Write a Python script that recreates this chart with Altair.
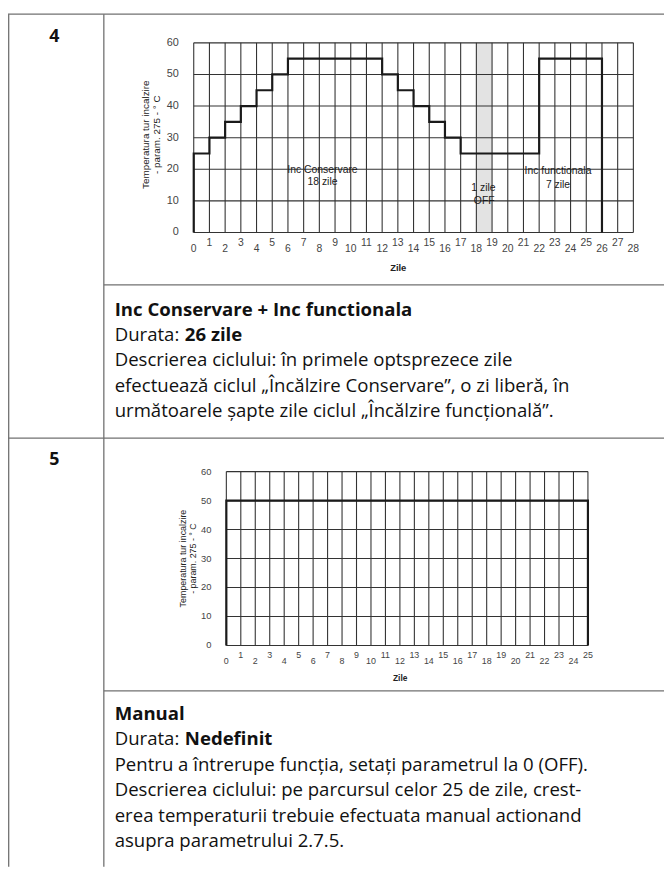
import altair as alt
import pandas as pd

# ---------------- data : cycle 4 ----------------
days1 = list(range(29))
temps_grid = [0, 10, 20, 30, 40, 50, 60]
step1_day = [0, 0, 1, 2, 3, 4, 5, 6, 12, 13, 14, 15, 16, 17, 22, 26]
step1_temp = [0, 25, 30, 35, 40, 45, 50, 55, 50, 45, 40, 35, 30, 25, 55, 0]
off_start = [18]
off_end = [19]
ann1_text = ["Inc Conservare", "18 zile", "1 zile", "OFF", "Inc functionala", "7 zile"]
ann1_day = [8.2, 8.2, 18.45, 18.5, 23.2, 23.2]
ann1_temp = [19.7, 15.9, 14.0, 10.0, 19.4, 15.0]

# ---------------- data : cycle 5 ----------------
days2 = list(range(26))
step2_day = [0, 0, 25]
step2_temp = [0, 50, 0]

# ---------------- texts ----------------
row_numbers = ["4", "5"]
y_title = ["Temperatura tur incalzire", "- param. 275 - \u00b0 C"]
x_title = "Zile"
block1_title = "Inc Conservare + Inc functionala"
block1_dur_label = "Durata:"
block1_dur_value = "26 zile"
block1_lines = [
    "Descrierea ciclului: \u00een primele optsprezece zile",
    "efectueaz\u0103 ciclul \u201e\u00cenc\u0103lzire Conservare\u201d, o zi liber\u0103, \u00een",
    "urm\u0103toarele \u0219apte zile ciclul \u201e\u00cenc\u0103lzire func\u021bional\u0103\u201d.",
]
block2_title = "Manual"
block2_dur_label = "Durata:"
block2_dur_value = "Nedefinit"
block2_lines = [
    "Pentru a \u00eentrerupe func\u021bia, seta\u021bi parametrul la 0 (OFF).",
    "Descrierea ciclului: pe parcursul celor 25 de zile, crest-",
    "erea temperaturii trebuie efectuata manual actionand",
    "asupra parametrului 2.7.5.",
]

BODY = "Open Sans"
TICK = "Liberation Sans Narrow, Liberation Sans, Arial"
GRID = "#333333"
LINE = "#1a1a1a"
FRAME = "#707070"
W, H = 664, 864


def P(v):
    return v - 8  # page px -> chart px


def make_plot(days, step_day, step_temp, xmax, xr, yr, fs_y, fs_x, dy_even, dy_odd,
              band=None, ann=None):
    sx = alt.Scale(domain=[0, xmax], range=xr, nice=False, zero=False)
    sy = alt.Scale(domain=[0, 60], range=yr, nice=False)
    layers = []
    if band is not None:
        bdf = pd.DataFrame({"start": band[0], "end": band[1]})
        layers.append(alt.Chart(bdf).mark_rect(color="#e3e3e3").encode(
            x=alt.X("start:Q", scale=sx, axis=None), x2="end:Q",
            y=alt.YDatum(0, scale=sy, axis=None), y2=alt.Y2Datum(60)))
    vdf = pd.DataFrame({"day": days})
    layers.append(alt.Chart(vdf).mark_rule(color=GRID, strokeWidth=1.1).encode(
        x=alt.X("day:Q", scale=sx, axis=None),
        y=alt.YDatum(0, scale=sy, axis=None), y2=alt.Y2Datum(60)))
    hdf = pd.DataFrame({"temp": temps_grid})
    layers.append(alt.Chart(hdf).mark_rule(color=GRID, strokeWidth=1.1).encode(
        y=alt.Y("temp:Q", scale=sy, axis=None),
        x=alt.XDatum(0, scale=sx, axis=None), x2=alt.X2Datum(xmax)))
    sdf = pd.DataFrame({"day": step_day, "temp": step_temp, "i": list(range(len(step_day)))})
    layers.append(alt.Chart(sdf).mark_line(color=LINE, strokeWidth=2.2, interpolate="step-after").encode(
        x=alt.X("day:Q", scale=sx, axis=None), y=alt.Y("temp:Q", scale=sy, axis=None),
        order=alt.Order("i:Q")))
    # tick labels of the x axis (even ones lower, odd ones higher)
    for parity, dy in ((0, dy_even), (1, dy_odd)):
        layers.append(alt.Chart(vdf).transform_filter(f"datum.day % 2 == {parity}").mark_text(
            font=TICK, fontSize=fs_x, color="#444", align="center", baseline="alphabetic", dy=dy
        ).encode(x=alt.X("day:Q", scale=sx, axis=None), y=alt.YDatum(0, scale=sy, axis=None),
                 text=alt.Text("day:Q", format="d")))
    # tick labels of the y axis
    layers.append(alt.Chart(hdf).mark_text(
        font=TICK, fontSize=fs_y, color="#444", align="right", baseline="middle", dx=-15
    ).encode(y=alt.Y("temp:Q", scale=sy, axis=None), x=alt.XDatum(0, scale=sx, axis=None),
             text=alt.Text("temp:Q", format="d")))
    if ann is not None:
        adf = pd.DataFrame({"day": ann[0], "temp": ann[1], "label": ann[2]})
        layers.append(alt.Chart(adf).mark_text(font=TICK, fontSize=10.5, color="#1a1a1a",
                                               baseline="middle", align="center").encode(
            x=alt.X("day:Q", scale=sx, axis=None), y=alt.Y("temp:Q", scale=sy, axis=None),
            text="label:N"))
    return alt.layer(*layers)


plot1 = make_plot(days1, step1_day, step1_temp, 28, [P(196), P(641)], [P(230), P(38)],
                  11, 10.5, 20, 14, band=(off_start, off_end),
                  ann=(ann1_day, ann1_temp, ann1_text))
plot2 = make_plot(days2, step2_day, step2_temp, 25, [P(229), P(595)], [P(648), P(472)],
                  9.5, 9, 19, 13)


def rule(x1, x2, y1, y2):
    return alt.Chart().mark_rule(color=FRAME, strokeWidth=1.3).encode(
        x=alt.value(x1), x2=alt.value(x2), y=alt.value(y1), y2=alt.value(y2))


def txt(s, x, y, size=18.8, weight="normal", align="left", font=BODY, color="#111",
        angle=0, line_height=None):
    kw = dict(text=s, font=font, fontSize=size, fontWeight=weight, color=color,
              align=align, baseline="middle")
    if angle:
        kw["angle"] = angle
    if line_height:
        kw["lineHeight"] = line_height
    return alt.Chart().mark_text(**kw).encode(x=alt.value(P(x)), y=alt.value(P(y)))


SEP1, SEP2, SEP3 = 283, 438, 694
frame = [
    rule(0, W, P(9), P(9)),
    rule(0.7, 0.7, P(9), H),
    rule(P(105), P(105), P(9), H),
    rule(P(105), W, P(SEP1), P(SEP1)),
    rule(0, W, P(SEP2), P(SEP2)),
    rule(P(105), W, P(SEP3), P(SEP3)),
]

# axis titles
titles = [
    txt(y_title, 147.5, 131, size=10, font=TICK, color="#222", align="center",
        angle=270, line_height=11),
    txt(x_title, 403, 266, size=9.5, weight="bold", font=TICK, color="#222", align="center"),
    txt(y_title, 185, 560, size=9, font=TICK, color="#222", align="center",
        angle=270, line_height=10),
    txt(x_title, 405, 681, size=8.5, weight="bold", font=TICK, color="#222", align="center"),
]

TX = 116
DX = 187
texts = [
    txt(row_numbers[0], 55, 32, size=18, weight="bold", align="center"),
    txt(row_numbers[1], 55, 460, size=18, weight="bold", align="center"),
]
y0, dy = 308, 25.8
texts.append(txt(block1_title, TX, y0, weight="bold"))
texts.append(txt(block1_dur_label, TX, y0 + dy))
texts.append(txt(block1_dur_value, DX, y0 + dy, weight="bold"))
for k, s in enumerate(block1_lines):
    texts.append(txt(s, TX, y0 + dy * (k + 2)))
y0, dy = 717, 25.8
texts.append(txt(block2_title, TX, y0, weight="bold"))
texts.append(txt(block2_dur_label, TX, y0 + dy))
texts.append(txt(block2_dur_value, DX, y0 + dy, weight="bold"))
for k, s in enumerate(block2_lines):
    texts.append(txt(s, TX, y0 + dy * (k + 2)))

chart = alt.layer(plot1, plot2, *frame, *titles, *texts).resolve_scale(
    x="independent", y="independent"
).properties(
    width=W, height=H, padding=0, autosize=alt.AutoSizeParams(type="none"),
    background="white"
).configure_view(stroke=None)

chart.save("out.html", embed_options={"renderer": "svg", "actions": False})
